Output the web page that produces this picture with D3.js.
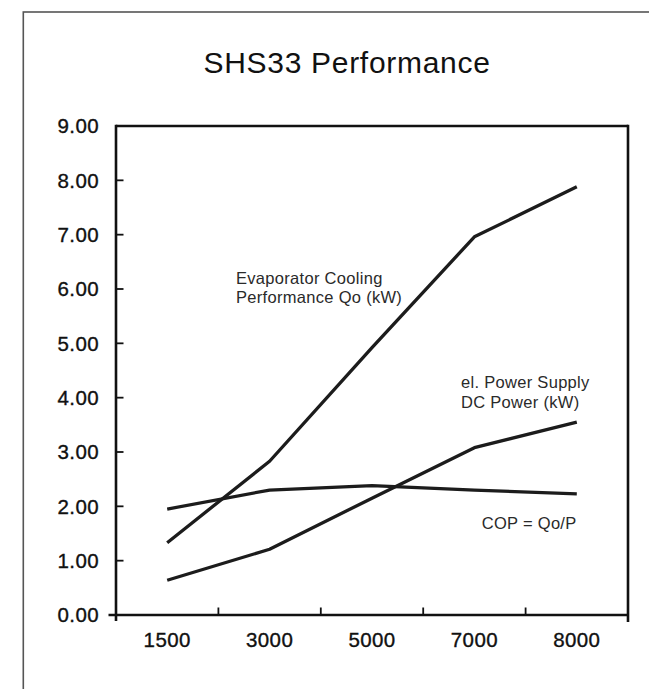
<!DOCTYPE html>
<html>
<head>
<meta charset="utf-8">
<script src="https://cdn.jsdelivr.net/npm/d3@7"></script>
<style>
  html, body { margin: 0; padding: 0; background: #fff; }
  svg { display: block; font-family: "Liberation Sans", Arial, Helvetica, sans-serif; }
</style>
</head>
<body>
<svg id="chart" width="649" height="689"></svg>
<script>
const title = "SHS33 Performance";
const categories = ["1500", "3000", "5000", "7000", "8000"];
const coolingQo = [1.33, 2.83, 4.92, 6.96, 7.88];
const powerDC = [0.64, 1.21, 2.15, 3.08, 3.55];
const cop = [1.95, 2.30, 2.38, 2.30, 2.23];
const yTicks = [0, 1, 2, 3, 4, 5, 6, 7, 8, 9];
const labelCooling = ["Evaporator Cooling", "Performance Qo (kW)"];
const labelPower = ["el. Power Supply", "DC Power (kW)"];
const labelCop = ["COP = Qo/P"];

const svg = d3.select("#chart");
const L = 116, R = 628, T = 126, B = 615;

// outer frame
svg.append("rect")
  .attr("x", 23.3).attr("y", 12).attr("width", 800).attr("height", 800)
  .attr("fill", "none").attr("stroke", "#555").attr("stroke-width", 1.6);

svg.append("text")
  .attr("x", 347).attr("y", 72.5)
  .attr("text-anchor", "middle")
  .attr("font-size", 30)
  .attr("letter-spacing", 0.7)
  .attr("fill", "#111")
  .text(title);

const x = d3.scaleBand().domain(categories).range([L, R]).padding(0);
const y = d3.scaleLinear().domain([0, 9]).range([B, T]);
const cx = c => x(c) + x.bandwidth() / 2;

const axisColor = "#111";
const g = svg.append("g");

// frame of plot
g.append("line").attr("x1", L).attr("x2", R).attr("y1", T).attr("y2", T)
  .attr("stroke", axisColor).attr("stroke-width", 2.6);
g.append("line").attr("x1", L).attr("x2", L).attr("y1", T - 1.3).attr("y2", B + 6)
  .attr("stroke", axisColor).attr("stroke-width", 2.6);
g.append("line").attr("x1", R).attr("x2", R).attr("y1", T - 1.3).attr("y2", B + 7)
  .attr("stroke", axisColor).attr("stroke-width", 2.6);
g.append("line").attr("x1", L - 7.5).attr("x2", R).attr("y1", B).attr("y2", B)
  .attr("stroke", axisColor).attr("stroke-width", 2.6);

// y ticks (inside)
g.selectAll(".yt").data(yTicks.filter(v => v > 0 && v < 9)).enter().append("line")
  .attr("x1", L).attr("x2", L + 7.5)
  .attr("y1", d => y(d)).attr("y2", d => y(d))
  .attr("stroke", axisColor).attr("stroke-width", 1.8);

g.selectAll(".yl").data(yTicks).enter().append("text")
  .attr("x", 99).attr("y", d => y(d)).attr("dy", "0.36em")
  .attr("text-anchor", "end").attr("font-size", 20.5).attr("letter-spacing", 0.4)
  .attr("fill", "#111").attr("stroke", "#111").attr("stroke-width", 0.35)
  .text(d => d3.format(".2f")(d));

// x ticks at band boundaries (upward)
g.selectAll(".xt").data(categories.slice(1)).enter().append("line")
  .attr("x1", d => x(d)).attr("x2", d => x(d))
  .attr("y1", B).attr("y2", B - 7.5)
  .attr("stroke", axisColor).attr("stroke-width", 1.8);

g.selectAll(".xl").data(categories).enter().append("text")
  .attr("x", d => cx(d)).attr("y", 646.5)
  .attr("text-anchor", "middle").attr("font-size", 20.5).attr("letter-spacing", 0.4)
  .attr("fill", "#111").attr("stroke", "#111").attr("stroke-width", 0.35)
  .text(d => d);

// series lines
const line = d3.line().x((d, i) => cx(categories[i])).y(d => y(d));
[coolingQo, powerDC, cop].forEach(s => {
  g.append("path").datum(s).attr("d", line)
    .attr("fill", "none").attr("stroke", "#1c1c1c")
    .attr("stroke-width", 3.3).attr("stroke-linejoin", "round");
});

// annotations
function annot(lines, x0, y0, lh) {
  const t = svg.append("text").attr("font-size", 16.5).attr("fill", "#2a2a2a").attr("letter-spacing", 0.3);
  lines.forEach((s, i) => t.append("tspan").attr("x", x0).attr("y", y0 + i * lh).text(s));
}
annot(labelCooling, 236, 284.3, 18.4);
annot(labelPower, 461, 388.3, 19.4);
annot(labelCop, 481.7, 529.3, 18);
</script>
</body>
</html>
